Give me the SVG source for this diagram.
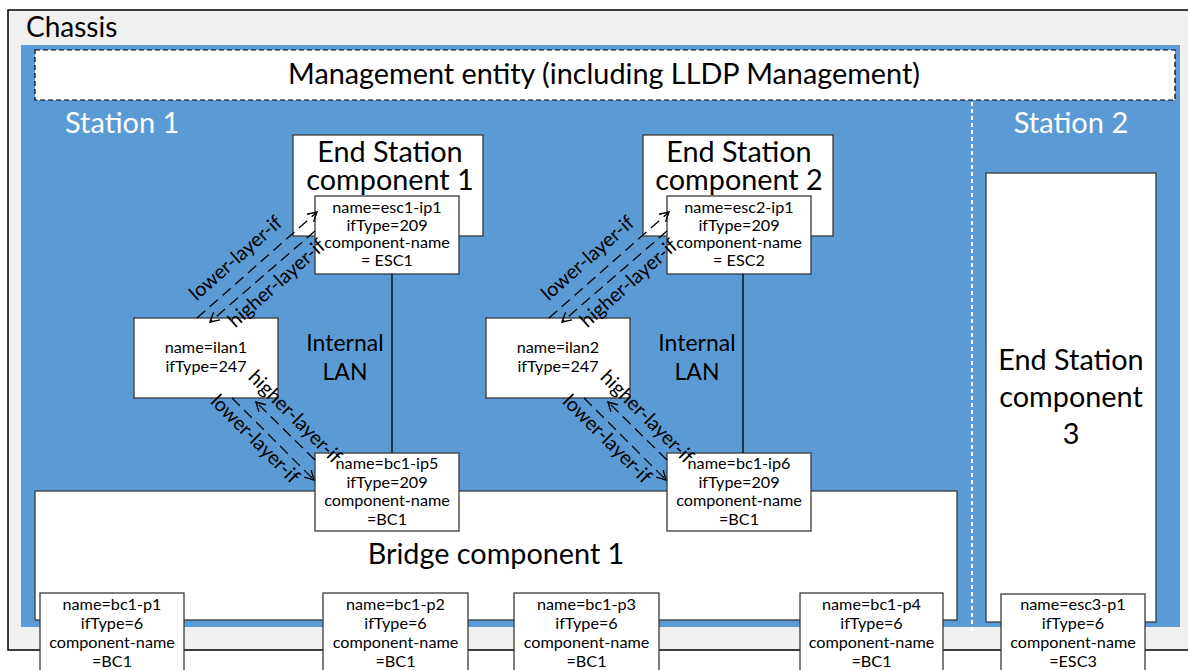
<svg xmlns="http://www.w3.org/2000/svg" width="1188" height="670" viewBox="0 0 1188 670">
  <style>
    text { font-family: Lato, "Liberation Sans", sans-serif; fill: #000; }
    .big { font-size: 28.8px; text-anchor: middle; }
    .station { font-size: 29px; fill: #fff; }
    .small { font-size: 16.2px; text-anchor: middle; }
    .lan { font-size: 23px; text-anchor: middle; }
    .lbl { font-size: 19.8px; text-anchor: middle; }
    .box { fill: #fff; stroke: #3a3a3a; stroke-width: 1.3; }
    .dash { fill: none; stroke: #000; stroke-width: 1.3; stroke-dasharray: 11 6; marker-end: url(#open); }
    .solid { fill: none; stroke: #000; stroke-width: 1.3; }
  </style>
  <defs>
    <marker id="open" markerUnits="userSpaceOnUse" markerWidth="12" markerHeight="12" refX="10" refY="6" orient="auto">
      <path d="M1,1 L10,6 L1,11" fill="none" stroke="#000" stroke-width="1.4"/>
    </marker>
  </defs>

  <!-- chassis enclosure -->
  <g id="chassis">
    <rect x="8" y="10" width="1200" height="640" fill="#f0f0f0" stroke="#000" stroke-width="1.5"/>
    <text x="26" y="37" style="font-size:28px">Chassis</text>
  </g>

  <!-- station area -->
  <g id="stations">
    <rect x="21" y="45" width="1159" height="582" fill="#5b9bd5"/>
    <line x1="972" y1="102" x2="972" y2="633" stroke="#fff" stroke-width="2" stroke-dasharray="4 3"/>
    <text class="station" x="65" y="133">Station 1</text>
    <text class="station" x="1071" y="133" text-anchor="middle">Station 2</text>
  </g>

  <g id="management">
    <rect x="35" y="50" width="1140" height="50" fill="#fff" stroke="#000" stroke-width="1.2" stroke-dasharray="5 3"/>
    <text class="big" x="604" y="84">Management entity (including LLDP Management)</text>
  </g>

  <g id="esc1">
    <rect class="box" x="293" y="135" width="190" height="101"/>
    <text class="big" x="390" y="162">End Station</text>
    <text class="big" x="390" y="190">component 1</text>
  </g>

  <g id="esc2">
    <rect class="box" x="643" y="135" width="190" height="101"/>
    <text class="big" x="739" y="162">End Station</text>
    <text class="big" x="739" y="190">component 2</text>
  </g>

  <g id="esc3">
    <rect class="box" x="986" y="173" width="170" height="449"/>
    <text class="big" x="1071" y="370">End Station</text>
    <text class="big" x="1071" y="407">component</text>
    <text class="big" x="1071" y="444">3</text>
  </g>

  <g id="bc1">
    <rect class="box" x="35" y="491" width="922" height="129"/>
    <text class="big" x="496" y="564">Bridge component 1</text>
  </g>

  <g id="esc1-ip1">
    <rect class="box" x="315" y="196" width="144" height="78"/>
    <text class="small" x="387" y="213">name=esc1-ip1</text>
    <text class="small" x="387" y="231">ifType=209</text>
    <text class="small" x="387" y="248">component-name</text>
    <text class="small" x="387" y="266">= ESC1</text>
  </g>

  <g id="esc2-ip1">
    <rect class="box" x="667" y="196" width="144" height="78"/>
    <text class="small" x="739" y="213">name=esc2-ip1</text>
    <text class="small" x="739" y="231">ifType=209</text>
    <text class="small" x="739" y="248">component-name</text>
    <text class="small" x="739" y="266">= ESC2</text>
  </g>

  <g id="ilan1">
    <rect class="box" x="134" y="318" width="144" height="80"/>
    <text class="small" x="206" y="353">name=ilan1</text>
    <text class="small" x="206" y="372">ifType=247</text>
  </g>

  <g id="ilan2">
    <rect class="box" x="486" y="318" width="144" height="80"/>
    <text class="small" x="558" y="353">name=ilan2</text>
    <text class="small" x="558" y="372">ifType=247</text>
  </g>

  <g id="bc1-ip5">
    <rect class="box" x="315" y="453" width="144" height="78"/>
    <text class="small" x="387" y="469">name=bc1-ip5</text>
    <text class="small" x="387" y="487.5">ifType=209</text>
    <text class="small" x="387" y="506">component-name</text>
    <text class="small" x="387" y="524.5">=BC1</text>
  </g>

  <g id="bc1-ip6">
    <rect class="box" x="667" y="453" width="144" height="78"/>
    <text class="small" x="739" y="469">name=bc1-ip6</text>
    <text class="small" x="739" y="487.5">ifType=209</text>
    <text class="small" x="739" y="506">component-name</text>
    <text class="small" x="739" y="524.5">=BC1</text>
  </g>

  <g id="bc1-p1">
    <rect class="box" x="40" y="593" width="144" height="90"/>
    <text class="small" x="112" y="610">name=bc1-p1</text>
    <text class="small" x="112" y="629">ifType=6</text>
    <text class="small" x="112" y="648">component-name</text>
    <text class="small" x="112" y="667">=BC1</text>
  </g>

  <g id="bc1-p2">
    <rect class="box" x="323" y="593" width="145" height="90"/>
    <text class="small" x="395.5" y="610">name=bc1-p2</text>
    <text class="small" x="395.5" y="629">ifType=6</text>
    <text class="small" x="395.5" y="648">component-name</text>
    <text class="small" x="395.5" y="667">=BC1</text>
  </g>

  <g id="bc1-p3">
    <rect class="box" x="514" y="593" width="145" height="90"/>
    <text class="small" x="586.5" y="610">name=bc1-p3</text>
    <text class="small" x="586.5" y="629">ifType=6</text>
    <text class="small" x="586.5" y="648">component-name</text>
    <text class="small" x="586.5" y="667">=BC1</text>
  </g>

  <g id="bc1-p4">
    <rect class="box" x="800" y="593" width="143" height="90"/>
    <text class="small" x="871.5" y="610">name=bc1-p4</text>
    <text class="small" x="871.5" y="629">ifType=6</text>
    <text class="small" x="871.5" y="648">component-name</text>
    <text class="small" x="871.5" y="667">=BC1</text>
  </g>

  <g id="esc3-p1">
    <rect class="box" x="1001" y="594" width="144" height="90"/>
    <text class="small" x="1073" y="610">name=esc3-p1</text>
    <text class="small" x="1073" y="629">ifType=6</text>
    <text class="small" x="1073" y="648">component-name</text>
    <text class="small" x="1073" y="667">=ESC3</text>
  </g>

  <!-- interface stacking and internal LAN links -->
  <g id="connectors">
    <line class="solid" x1="392" y1="274" x2="392" y2="453"/>
    <line class="solid" x1="743" y1="274" x2="743" y2="453"/>
    <text class="lan" x="345" y="351">Internal</text>
    <text class="lan" x="345" y="380">LAN</text>
    <text class="lan" x="697" y="351">Internal</text>
    <text class="lan" x="697" y="380">LAN</text>

    <line class="dash" x1="197" y1="318" x2="317" y2="212"/>
    <line class="dash" x1="315" y1="231" x2="210" y2="322"/>
    <line class="dash" x1="232" y1="398" x2="314" y2="480"/>
    <line class="dash" x1="315" y1="460" x2="256" y2="402"/>
    <text class="lbl" x="240" y="263" transform="rotate(-41.4 240 263)">lower-layer-if</text>
    <text class="lbl" x="281" y="288" transform="rotate(-41.4 281 288)">higher-layer-if</text>
    <text class="lbl" x="250.5" y="443.5" transform="rotate(45 250.5 443.5)">lower-layer-if</text>
    <text class="lbl" x="290.5" y="421.5" transform="rotate(45 290.5 421.5)">higher-layer-if</text>

    <line class="dash" x1="549" y1="318" x2="669" y2="212"/>
    <line class="dash" x1="667" y1="231" x2="562" y2="322"/>
    <line class="dash" x1="584" y1="398" x2="666" y2="480"/>
    <line class="dash" x1="667" y1="460" x2="608" y2="402"/>
    <text class="lbl" x="592" y="263" transform="rotate(-41.4 592 263)">lower-layer-if</text>
    <text class="lbl" x="633" y="288" transform="rotate(-41.4 633 288)">higher-layer-if</text>
    <text class="lbl" x="602.5" y="443.5" transform="rotate(45 602.5 443.5)">lower-layer-if</text>
    <text class="lbl" x="642.5" y="421.5" transform="rotate(45 642.5 421.5)">higher-layer-if</text>
  </g>
</svg>
